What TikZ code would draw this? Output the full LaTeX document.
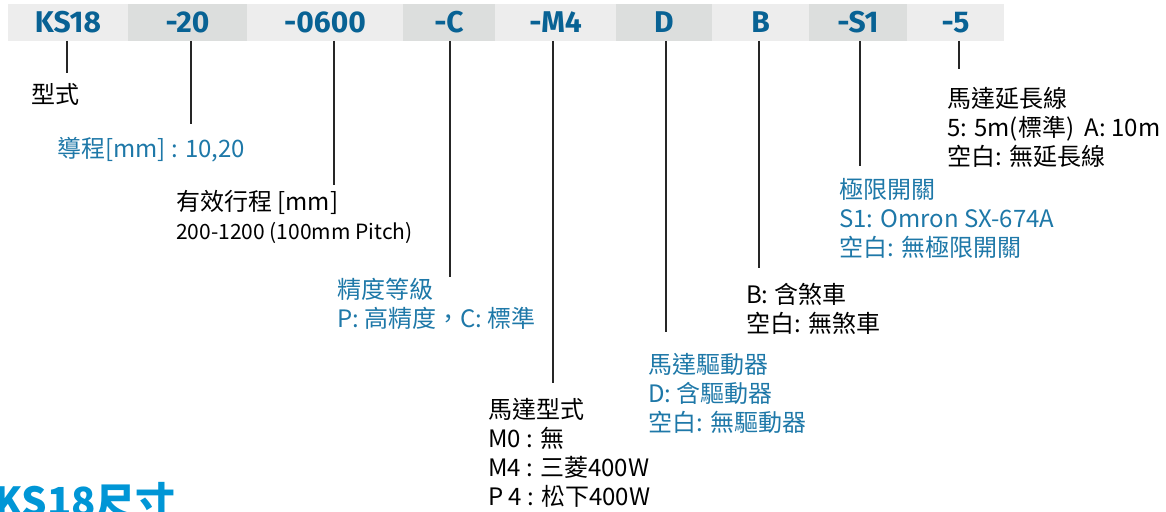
\documentclass[tikz,border=0pt]{standalone}
\usepackage{fontspec}
\setmainfont{Noto Sans CJK TC}
\newfontfamily\codefont{Fira Sans}
\usetikzlibrary{positioning}

\definecolor{barlight}{RGB}{237,237,237}
\definecolor{bardark}{RGB}{220,222,221}
\definecolor{codeblue}{RGB}{8,98,148}
\definecolor{noteblue}{RGB}{30,120,168}
\definecolor{titleblue}{RGB}{0,150,214}

\begin{document}
\begin{tikzpicture}[x=1pt,y=-1pt,
  seg/.style={minimum height=37pt,inner sep=0pt,outer sep=0pt,anchor=west,
    text height=20.6pt,text depth=0pt,text=codeblue,
    font=\codefont\bfseries\fontsize{30}{30}\selectfont},
  light/.style={seg,fill=barlight},
  dark/.style={seg,fill=bardark},
  tick/.style={line width=1.1pt,black!85},
  note/.style={anchor=north west,align=left,inner sep=0pt,
    font=\fontsize{24}{29}\selectfont},
  bluenote/.style={note,text=noteblue}]
  \useasboundingbox (0,0) rectangle (1166,511);

  \node[light,minimum width=120pt] (ks) at (8,22.5) {KS18};
  \node[dark,minimum width=119pt,right=0pt of ks] (lead) {-20};
  \node[light,minimum width=156pt,right=0pt of lead] (stroke) {-0600};
  \node[dark,minimum width=92pt,right=0pt of stroke] (grade) {-C};
  \node[light,minimum width=121pt,right=0pt of grade] (motor) {-M4};
  \node[dark,minimum width=96pt,right=0pt of motor] (driver) {D};
  \node[light,minimum width=97pt,right=0pt of driver] (brake) {B};
  \node[dark,minimum width=98pt,right=0pt of brake] (sensor) {-S1};
  \node[light,minimum width=97pt,right=0pt of sensor] (cable) {-5};

  \coordinate (ks-end) at (67,73);
  \coordinate (lead-end) at (191,124);
  \coordinate (stroke-end) at (334,185);
  \coordinate (grade-end) at (450,277);
  \coordinate (motor-end) at (553,383);
  \coordinate (driver-end) at (666,332);
  \coordinate (brake-end) at (759,268);
  \coordinate (sensor-end) at (860,166);
  \coordinate (cable-end) at (959,69);
  \foreach \part in {ks,lead,stroke,grade,motor,driver,brake,sensor,cable}
    \draw[tick] (\part-end |- \part.south) -- (\part-end);

  \node[note] (typenote) at (31,83) {型式};
  \node[bluenote] (leadnote) at (57,137) {導程[mm] : 10,20};
  \node[note] (strokenote) at (176,190)
    {有效行程 [mm]\\{\fontsize{21}{29}\selectfont 200-1200 (100mm Pitch)}};
  \node[bluenote] (gradenote) at (337,278) {精度等級\\P: 高精度，C: 標準};
  \node[note] (motornote) at (488,398)
    {馬達型式\\M0 : 無\\M4 : 三菱400W\\P 4 : 松下400W};
  \node[bluenote] (drivernote) at (648,353)
    {馬達驅動器\\D: 含驅動器\\空白: 無驅動器};
  \node[note] (brakenote) at (746,283) {B: 含煞車\\空白: 無煞車};
  \node[bluenote] (sensornote) at (839,178)
    {極限開關\\S1: Omron SX-674A\\空白: 無極限開關};
  \node[note] (cablenote) at (947,87)
    {馬達延長線\\5: 5m(標準)~~A: 10m\\空白: 無延長線};

  \node[anchor=base west,inner sep=0pt,text=titleblue,
    font=\bfseries\fontsize{40}{40}\selectfont] (title) at (-6,516) {KS18尺寸};
\end{tikzpicture}
\end{document}
